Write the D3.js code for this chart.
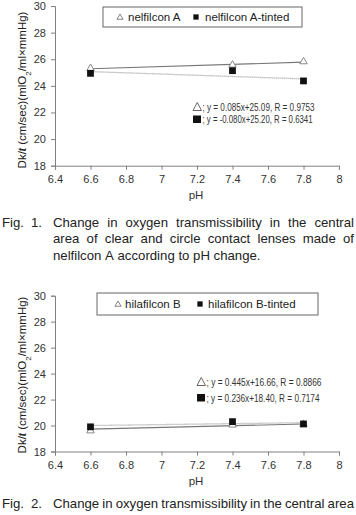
<!DOCTYPE html>
<html><head><meta charset="utf-8">
<script src="https://cdn.jsdelivr.net/npm/d3@7"></script>
<style>
html,body{margin:0;padding:0;background:#fff;overflow:hidden;}
svg{display:block;font-family:"Liberation Sans",Arial,sans-serif;}
</style></head>
<body>
<script>
// ---------- data ----------
const pH = [6.6, 7.4, 7.8];
const xTicks = [6.4, 6.6, 6.8, 7.0, 7.2, 7.4, 7.6, 7.8, 8.0];
const yTicks = [18, 20, 22, 24, 26, 28, 30];
const trendX = [6.6, 7.8];

// Fig. 1
const nelfilconA       = [25.32, 25.57, 25.82];
const nelfilconATinted = [24.94, 25.14, 24.37];
const nelfilconATrend       = [25.28, 25.78];
const nelfilconATintedTrend = [25.07, 24.52];
const fig1Legend = ["nelfilcon A", "nelfilcon A-tinted"];
const fig1Eq = ["; y = 0.085x+25.09,  R = 0.9753", "; y = -0.080x+25.20,  R = 0.6341"];
const fig1Caption = [
  "Change in oxygen transmissibility in the central",
  "area of clear and circle contact lenses made of",
  "nelfilcon A according to pH change."
];

// Fig. 2
const hilafilconB       = [19.60, 20.05, 20.10];
const hilafilconBTinted = [19.90, 20.30, 20.12];
const hilafilconBTrend       = [19.72, 20.12];
const hilafilconBTintedTrend = [20.00, 20.22];
const fig2Legend = ["hilafilcon B", "hilafilcon B-tinted"];
const fig2Eq = ["; y = 0.445x+16.66,  R = 0.8866", "; y = 0.236x+18.40,  R = 0.7174"];
const fig2Caption = [
  "Change in oxygen transmissibility in the central area"
];

// ---------- drawing ----------
const W = 356, H = 515;
const svg = d3.select("body").append("svg").attr("width", W).attr("height", H);
const axisColor = "#808080";
const textColor = "#333";

function drawChart(cfg) {
  const x = d3.scaleLinear().domain([6.4, 8]).range([55, 339]);
  const y = d3.scaleLinear().domain([18, 30]).range([cfg.yBottom, cfg.yTop]);
  const g = svg.append("g");

  const xa = g.append("g").attr("transform", `translate(0,${cfg.yBottom})`)
    .call(d3.axisBottom(x).tickValues(xTicks).tickSize(4).tickPadding(6)
      .tickFormat(d => d3.format("")(+d.toFixed(1))));
  const ya = g.append("g").attr("transform", `translate(55,0)`)
    .call(d3.axisLeft(y).tickValues(yTicks).tickSize(4).tickPadding(5));
  [xa, ya].forEach(a => {
    a.select(".domain").attr("stroke", axisColor);
    a.selectAll(".tick line").attr("stroke", axisColor);
    a.selectAll(".tick text").attr("fill", textColor).style("font-size", "11px")
      .style("font-family", '"Liberation Sans",Arial,sans-serif');
  });

  // axis titles
  g.append("text").attr("x", 196).attr("y", cfg.yBottom + 33.5)
    .attr("text-anchor", "middle").attr("fill", textColor).style("font-size", "11.5px").text("pH");
  const yt = g.append("text")
    .attr("transform", `translate(26,${cfg.yLabelC}) rotate(-90)`)
    .attr("text-anchor", "middle").attr("fill", "#222").style("font-size", "11.5px");
  yt.append("tspan").text("Dk/");
  yt.append("tspan").style("font-style", "italic").style("font-family", '"Liberation Serif",serif').style("font-weight","bold").text("t");
  yt.append("tspan").text(" (cm/sec)(mlO");
  yt.append("tspan").attr("baseline-shift", "sub").style("font-size", "8px").text("2");
  yt.append("tspan").text("/ml\u00D7mmHg)");

  const line = d3.line().x((d, i) => x(trendX[i])).y(d => y(d));
  g.append("path").datum(cfg.trendA).attr("d", line)
    .attr("fill", "none").attr("stroke", "#777").attr("stroke-width", 1.1);
  g.append("path").datum(cfg.trendB).attr("d", line)
    .attr("fill", "none").attr("stroke", "#999").attr("stroke-width", 1.3).attr("stroke-dasharray", "1,1");

  const tri = d3.symbol().type(d3.symbolTriangle).size(24);
  const sq = d3.symbol().type(d3.symbolSquare).size(46);
  g.selectAll(".tri").data(cfg.seriesA).join("path")
    .attr("transform", (d, i) => `translate(${x(pH[i])},${y(d)})`)
    .attr("d", tri).attr("fill", "#fff").attr("stroke", "#888").attr("stroke-width", 1);
  g.selectAll(".sq").data(cfg.seriesB).join("path")
    .attr("transform", (d, i) => `translate(${x(pH[i])},${y(d)})`)
    .attr("d", sq).attr("fill", "#111");

  // legend
  const L = cfg.legend;
  g.append("rect").attr("x", L.x).attr("y", L.y).attr("width", L.w).attr("height", L.h)
    .attr("fill", "#fff").attr("stroke", "#666").attr("stroke-width", 1);
  const cy = L.y + L.h / 2;
  g.append("path").attr("transform", `translate(${L.m1},${cy + 0.5})`)
    .attr("d", d3.symbol().type(d3.symbolTriangle).size(16)).attr("fill", "#fff").attr("stroke", "#666").attr("stroke-width", 0.8);
  g.append("path").attr("transform", `translate(${L.m2},${cy})`)
    .attr("d", d3.symbol().type(d3.symbolSquare).size(28)).attr("fill", "#111");
  g.append("text").attr("x", L.t1).attr("y", cy + 4.2).attr("fill", "#222").style("font-size", "11.5px").text(cfg.legendText[0]);
  g.append("text").attr("x", L.t2).attr("y", cy + 4.2).attr("fill", "#222").style("font-size", "11.5px").text(cfg.legendText[1]);

  // equations with their own marker glyphs
  const ex = cfg.eqPos.x;
  cfg.eq.forEach((s, i) => {
    const by = cfg.eqPos.y[i];
    if (i === 0) {
      g.append("path").attr("d", `M${ex},${by} L${ex + 8.5},${by} L${ex + 4.25},${by - 8} Z`)
        .attr("fill", "#fff").attr("stroke", "#555").attr("stroke-width", 0.9);
    } else {
      g.append("rect").attr("x", ex).attr("y", by - 7.5).attr("width", 8).attr("height", 7.5).attr("fill", "#111");
    }
    g.append("text").attr("x", ex + 9.5).attr("y", by)
      .attr("fill", "#333").style("font-size", "10px")
      .attr("textLength", cfg.eqPos.w[i]).attr("lengthAdjust", "spacingAndGlyphs").text(s);
  });
}

drawChart({
  yTop: 6, yBottom: 165.7, yLabelC: 90,
  seriesA: nelfilconA, seriesB: nelfilconATinted,
  trendA: nelfilconATrend, trendB: nelfilconATintedTrend,
  legend: {x: 103, y: 7, w: 199, h: 20, m1: 120, t1: 128, m2: 196, t2: 205},
  legendText: fig1Legend,
  eq: fig1Eq, eqPos: {x: 193, y: [110.5, 123], w: [112, 110]}
});
drawChart({
  yTop: 295.7, yBottom: 451.5, yLabelC: 375,
  seriesA: hilafilconB, seriesB: hilafilconBTinted,
  trendA: hilafilconBTrend, trendB: hilafilconBTintedTrend,
  legend: {x: 97, y: 293, w: 221, h: 22, m1: 118, t1: 125, m2: 200, t2: 208},
  legendText: fig2Legend,
  eq: fig2Eq, eqPos: {x: 197, y: [385.5, 401.5], w: [115, 113]}
});

// captions with justified word placement
const capFont = 13.2;
function measure(word) {
  const t = svg.append("text").style("font-size", capFont + "px").text(word);
  const w = t.node().getComputedTextLength(); t.remove(); return w;
}
function captionLine(text, x0, x1, yb, justify) {
  const words = text.split(" ");
  const widths = words.map(measure);
  const space = measure("a a") - measure("aa");
  const total = d3.sum(widths);
  const gap = justify ? (x1 - x0 - total) / (words.length - 1) : space;
  let cx = x0;
  const t = svg.append("text").attr("y", yb).attr("fill", "#222").style("font-size", capFont + "px");
  words.forEach((w, i) => {
    t.append("tspan").attr("x", cx).text(w);
    cx += widths[i] + gap;
  });
}
function figLabel(n, yb) {
  const t = svg.append("text").attr("y", yb).attr("fill", "#222").style("font-size", capFont + "px");
  t.append("tspan").attr("x", 2).text("Fig.");
  t.append("tspan").attr("x", 31).text(n + ".");
}
figLabel(1, 226.5);
captionLine(fig1Caption[0], 53, 354, 226.5, true);
captionLine(fig1Caption[1], 53, 354, 243, true);
captionLine(fig1Caption[2], 53, 0, 259.5, false);
figLabel(2, 508);
captionLine(fig2Caption[0], 53, 354, 508, true);
</script>
</body></html>
